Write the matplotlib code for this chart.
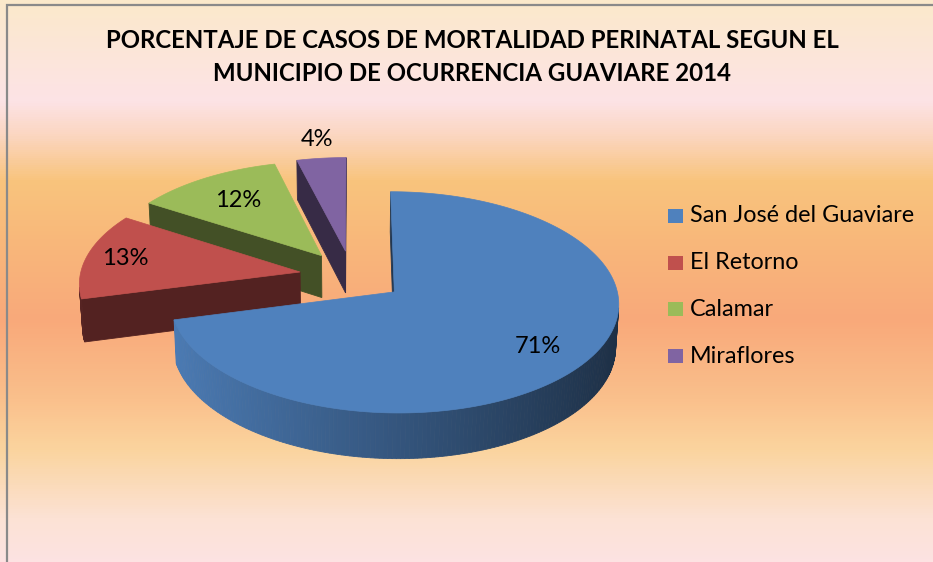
import numpy as np
import matplotlib
matplotlib.use('Agg')
import matplotlib.pyplot as plt
from matplotlib.colors import LinearSegmentedColormap, to_rgb
from matplotlib.patches import Polygon, Rectangle

plt.rcParams['font.family'] = ['Lato', 'DejaVu Sans']

titulo = ('PORCENTAJE DE CASOS DE MORTALIDAD PERINATAL SEGUN EL\n'
          'MUNICIPIO DE OCURRENCIA GUAVIARE 2014')
municipios = ['San José del Guaviare', 'El Retorno', 'Calamar', 'Miraflores']
porcentajes = [71, 13, 12, 4]
colores = ['#4F81BD', '#C0504D', '#9BBB59', '#8064A2']
# radial position of each percentage label (fraction of radius)
pos_etiqueta = [0.77, 0.82, 0.70, 1.22]

W, H = 933, 562
fig = plt.figure(figsize=(W / 100, H / 100), dpi=100)
ax = fig.add_axes([0, 0, 1, 1])
ax.set_xlim(0, W)
ax.set_ylim(H, 0)
ax.axis('off')

# background gradient
stops = [(0, '#FBE9CB'), (100, '#FDE3E6'), (135, '#FBD6C0'), (180, '#F9C47D'),
         (250, '#F8B67A'), (320, '#F9A97A'), (400, '#FAC08C'), (450, '#FAD49E'),
         (520, '#FCE2D5'), (562, '#FDE2E2')]
bg = LinearSegmentedColormap.from_list('bg', [(y / H, c) for y, c in stops])
ax.imshow(np.linspace(0, 1, H).reshape(-1, 1), cmap=bg,
          extent=(0, W, H, 0), aspect='auto', zorder=0)
ax.plot([7, 7, W], [H, 5, 5], color='#8a8a8a', lw=1.6, zorder=1,
        solid_joinstyle='miter')

# 3d pie projection
cx, cy = 352, 276
K = 220
elev = np.radians(29)
f = 9.4
h = 0.223
d = 0.24
cam = np.array([0, -f * np.cos(elev), f * np.sin(elev)])


def proj(u, v, z):
    Y = v * np.sin(elev) + z * np.cos(elev)
    D = v * np.cos(elev) - z * np.sin(elev)
    s = f / (f + D)
    return cx + K * u * s, cy - K * Y * s, D


fr = np.array(porcentajes) / sum(porcentajes)
edges = np.concatenate([[0], np.cumsum(fr)]) * 2 * np.pi
walls = []
tops = []
for i, c in enumerate(colores):
    t0, t1 = edges[i], edges[i + 1]
    mid = (t0 + t1) / 2
    ou, ov = d * np.sin(mid), d * np.cos(mid)
    th = np.linspace(t0, t1, max(int((t1 - t0) / np.radians(1.0)), 2) + 1)
    au = ou + np.sin(th)
    av = ov + np.cos(th)
    pts = [proj(ou, ov, 0)] + [proj(a, b, 0) for a, b in zip(au, av)]
    tops.append(([(p[0], p[1]) for p in pts], c))
    base = np.array(to_rgb(c))
    # outer wall
    for k in range(len(th) - 1):
        tm = (th[k] + th[k + 1]) / 2
        n = np.array([np.sin(tm), np.cos(tm), 0])
        pm = np.array([ou + np.sin(tm), ov + np.cos(tm), -h / 2])
        if np.dot(cam - pm, n) <= 0:
            continue
        quad = [proj(au[k], av[k], 0), proj(au[k + 1], av[k + 1], 0),
                proj(au[k + 1], av[k + 1], -h), proj(au[k], av[k], -h)]
        shade = 0.66 - 0.3 * np.sin(tm)
        if i > 0:
            shade = 0.45
        walls.append((proj(*pm)[2], [(q[0], q[1]) for q in quad],
                      np.clip(base * shade, 0, 1)))
    # radial walls
    for t, sgn in ((t0, -1), (t1, 1)):
        n = sgn * np.array([np.cos(t), -np.sin(t), 0])
        eu, ev = ou + np.sin(t), ov + np.cos(t)
        pm = np.array([(ou + eu) / 2, (ov + ev) / 2, -h / 2])
        if np.dot(cam - pm, n) <= 0:
            continue
        quad = [proj(ou, ov, 0), proj(eu, ev, 0), proj(eu, ev, -h), proj(ou, ov, -h)]
        walls.append((proj(*pm)[2], [(q[0], q[1]) for q in quad],
                      np.clip(base * 0.43, 0, 1)))

walls.sort(key=lambda w: -w[0])
for _, xy, col in walls:
    ax.add_patch(Polygon(xy, closed=True, fc=col, ec=col, lw=0.6, zorder=2))
for xy, col in tops:
    ax.add_patch(Polygon(xy, closed=True, fc=col, ec=col, lw=0.5, zorder=3))

# percentage labels
for i, p in enumerate(porcentajes):
    mid = (edges[i] + edges[i + 1]) / 2
    r = pos_etiqueta[i]
    u = d * np.sin(mid) + r * np.sin(mid)
    v = d * np.cos(mid) + r * np.cos(mid)
    x, y, _ = proj(u, v, 0)
    ax.text(x, y, f'{p}%', fontsize=17, ha='center', va='center',
            color='black', zorder=4)

# title
ax.text(472, 57, titulo, fontsize=17.3, fontweight='bold', ha='center',
        va='center', linespacing=1.5, zorder=4)

# legend
for i, (m, c) in enumerate(zip(municipios, colores)):
    yy = 216 + i * 46.7
    ax.add_patch(Rectangle((668, yy - 7), 15, 14, fc=c, ec='none', zorder=4))
    ax.text(690, yy, m, fontsize=16.8, ha='left', va='center', zorder=4)

fig.savefig('out.png', dpi=100)
